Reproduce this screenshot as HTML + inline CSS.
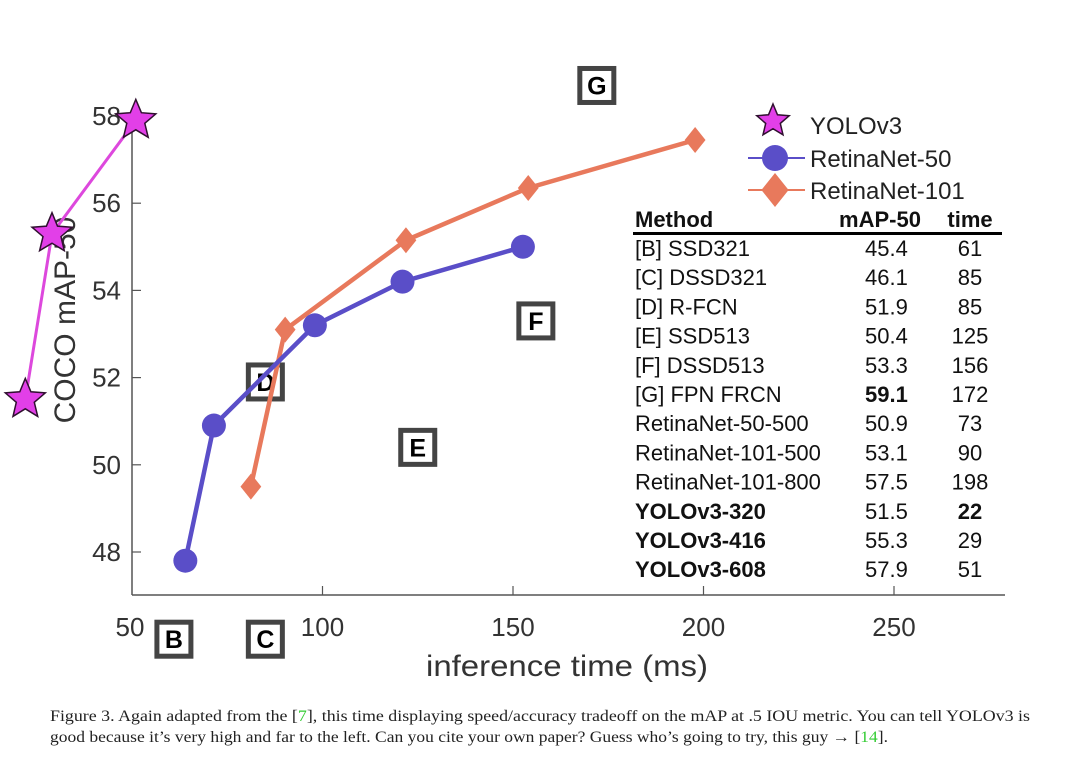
<!DOCTYPE html>
<html><head><meta charset="utf-8"><style>
html,body{margin:0;padding:0;background:#fff;}
svg{display:block;}
text{font-family:"Liberation Sans",sans-serif;}
.cap{font-family:"Liberation Serif",serif;font-size:15.5px;fill:#222;}
</style></head><body>
<svg id="chart" width="1080" height="766" viewBox="0 0 1080 766">
<g id="axes"></g>
<g id="boxes"></g>
<g id="series"></g>
<g id="legend"></g>
<g id="table"></g>
<text class="cap" x="50" y="721" textLength="980" lengthAdjust="spacingAndGlyphs">Figure 3. Again adapted from the [<tspan fill="#3c3">7</tspan>], this time displaying speed/accuracy tradeoff on the mAP at .5 IOU metric.  You can tell YOLOv3 is</text>
<text class="cap" x="50" y="742" textLength="838" lengthAdjust="spacingAndGlyphs">good because it’s very high and far to the left. Can you cite your own paper? Guess who’s going to try, this guy → [<tspan fill="#3c3">14</tspan>].</text>
</svg>
<script>
const xTicks=[50,100,150,200,250];
const yTicks=[48,50,52,54,56,58];
const yoloTime=[22,29,51];
const yoloMap=[51.5,55.3,57.9];
const r50Time=[64,71.5,98,121,152.6];
const r50Map=[47.8,50.9,53.2,54.2,55.0];
const r101Time=[81.2,90.2,121.9,154,197.8];
const r101Map=[49.5,53.1,55.15,56.35,57.45];
const boxLetters=['G','F','E','D','B','C'];
const boxTime=[172,156,125,85,61,85];
const boxMap=[58.7,53.3,50.4,51.9,46,46];
const tMethods=['[B] SSD321','[C] DSSD321','[D] R-FCN','[E] SSD513','[F] DSSD513','[G] FPN FRCN','RetinaNet-50-500','RetinaNet-101-500','RetinaNet-101-800','YOLOv3-320','YOLOv3-416','YOLOv3-608'];
const tMap=['45.4','46.1','51.9','50.4','53.3','59.1','50.9','53.1','57.5','51.5','55.3','57.9'];
const tTime=['61','85','85','125','156','172','73','90','198','22','29','51'];
const boldMethod=[0,0,0,0,0,0,0,0,0,1,1,1];
const boldMap=[0,0,0,0,0,1,0,0,0,0,0,0];
const boldTime=[0,0,0,0,0,0,0,0,0,1,0,0];

const NS='http://www.w3.org/2000/svg';
const X=t=>132+(t-50)*3.81;
const Y=m=>552-(m-48)*43.6;
function mk(tag,attrs,parent){const e=document.createElementNS(NS,tag);for(const k in attrs)e.setAttribute(k,attrs[k]);parent.appendChild(e);return e;}
const axes=document.getElementById('axes');
let e=mk('line',{x1:132,y1:124,x2:132,y2:595,stroke:'#555','stroke-width':1.5},axes);


e=mk('line',{x1:132,y1:595,x2:1005,y2:595,stroke:'#555','stroke-width':1.5},axes);


xTicks.forEach(t=>{
  if(t>50){e=mk('line',{x1:X(t),y1:595,x2:X(t),y2:586,stroke:'#555','stroke-width':1.2},axes);
  
  }
  e=mk('text',{x:X(t)+(t==50?-2:0),y:636,'text-anchor':'middle','font-size':26,fill:'#333'},axes);e.textContent=t;
  
  
});
yTicks.forEach(m=>{
  e=mk('line',{x1:132,y1:Y(m),x2:141,y2:Y(m),stroke:'#555','stroke-width':1.2},axes);
  
  
  e=mk('text',{x:121,y:Y(m)+9,'text-anchor':'end','font-size':26,fill:'#333'},axes);e.textContent=m;
  
  
});
e=mk('text',{x:567,y:676,'text-anchor':'middle','font-size':30,fill:'#333',textLength:282,lengthAdjust:'spacingAndGlyphs'},axes);e.textContent='inference time (ms)';


e=mk('text',{x:0,y:0,'text-anchor':'middle','font-size':30,fill:'#333',transform:'translate(75,320) rotate(-90)'},axes);e.textContent='COCO mAP-50';



const boxes=document.getElementById('boxes');
boxLetters.forEach((L,i)=>{
  const cx=X(boxTime[i]),cy=Y(boxMap[i]);
  e=mk('rect',{x:cx-17,y:cy-17,width:34,height:34,fill:'#fff',stroke:'#444','stroke-width':5},boxes);
  
  
  e=mk('text',{x:cx,y:cy+9,'text-anchor':'middle','font-size':25,'font-weight':'bold',fill:'#000'},boxes);e.textContent=L;
  
  
});

const series=document.getElementById('series');
function star(cx,cy,r,parent){let p=[];for(let k=0;k<10;k++){const a=-Math.PI/2+k*Math.PI/5,rr=k%2?r*0.45:r;p.push((cx+rr*Math.cos(a)).toFixed(1)+','+(cy+rr*Math.sin(a)).toFixed(1));}
  return mk('polygon',{points:p.join(' '),fill:'#e23fe8',stroke:'#301030','stroke-width':1.5},parent);}
function diamond(cx,cy,r,parent){return mk('polygon',{points:`${cx},${cy-r} ${cx+r*0.8},${cy} ${cx},${cy+r} ${cx-r*0.8},${cy}`,fill:'#e8795c'},parent);}
function line(ts,ms,col,w,name){e=mk('polyline',{points:ts.map((t,i)=>X(t)+','+Y(ms[i])).join(' '),fill:'none',stroke:col,'stroke-width':w},series);
  
  }
line(r101Time,r101Map,'#e8795c',4.5,'retinanet-101-line');
r101Time.forEach((t,i)=>{e=diamond(X(t),Y(r101Map[i]),13,series);
  
  });
line(r50Time,r50Map,'#5a4ec8',4.5,'retinanet-50-line');
r50Time.forEach((t,i)=>{e=mk('circle',{cx:X(t),cy:Y(r50Map[i]),r:12,fill:'#5a4ec8'},series);
  
  });
line(yoloTime,yoloMap,'#dd48dd',3,'yolov3-line');
yoloTime.forEach((t,i)=>{e=star(X(t),Y(yoloMap[i]),21,series);
  
  });

const lg=document.getElementById('legend');
e=star(773,121,17,lg);


mk('line',{x1:748,y1:158,x2:805,y2:158,stroke:'#5a4ec8','stroke-width':2},lg);
e=mk('circle',{cx:775,cy:158,r:13,fill:'#5a4ec8'},lg);


mk('line',{x1:748,y1:190,x2:805,y2:190,stroke:'#e8795c','stroke-width':2},lg);
e=diamond(775,190,17,lg);


[['YOLOv3',134],['RetinaNet-50',167],['RetinaNet-101',199]].forEach(([s,y])=>{
  e=mk('text',{x:810,y:y,'font-size':24,fill:'#222'},lg);e.textContent=s;
  
  
});

const tb=document.getElementById('table');
function tx(s,x,y,anchor,bold,name){e=mk('text',{x:x,y:y,'text-anchor':anchor,'font-size':22,'font-weight':bold?'bold':'normal',fill:'#111'},tb);e.textContent=s;
  
  }
tx('Method',635,227,'start',1,'header-method');
tx('mAP-50',880,227,'middle',1,'header-map');
tx('time',970,227,'middle',1,'header-time');
e=mk('line',{x1:633,y1:233.5,x2:1002,y2:233.5,stroke:'#000','stroke-width':3},tb);


tMethods.forEach((m,i)=>{
  const y=256+i*29.2;
  tx(m,635,y,'start',boldMethod[i],'table-method');
  tx(tMap[i],865,y,'start',boldMap[i],'table-map');
  tx(tTime[i],970,y,'middle',boldTime[i],'table-time');
});
</script>
</body></html>
